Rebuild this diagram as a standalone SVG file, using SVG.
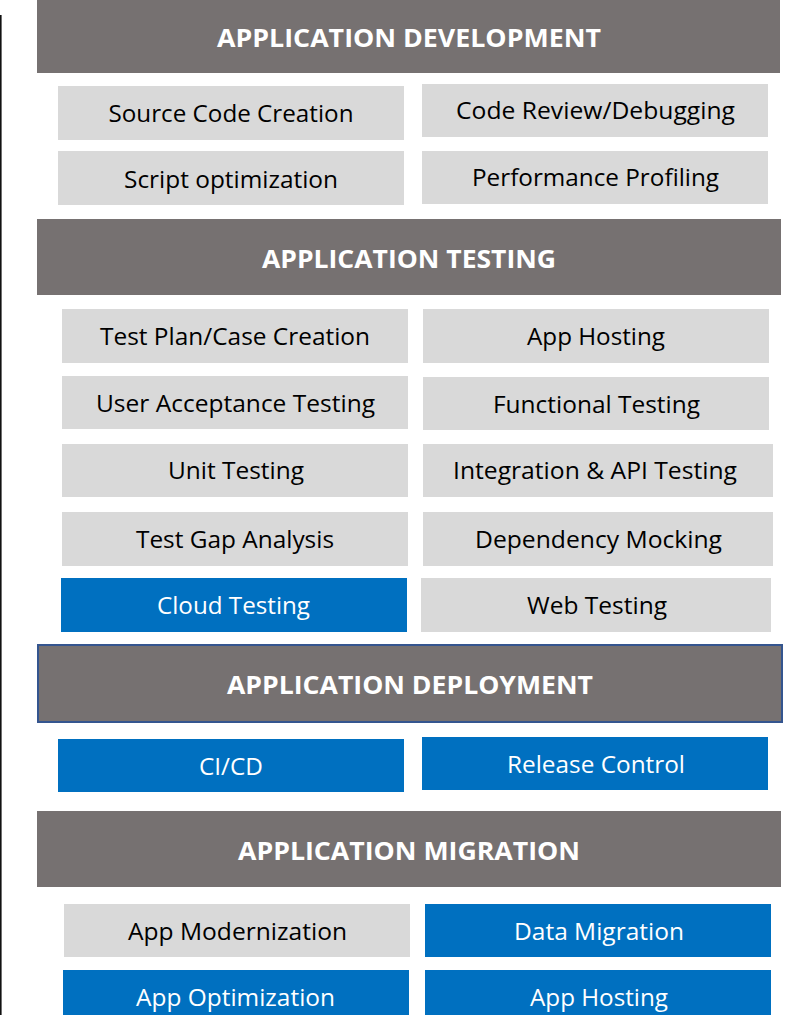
<svg xmlns="http://www.w3.org/2000/svg" width="794" height="1015" viewBox="0 0 794 1015">
  <style>
    .hdr { fill: #767171; }
    .hdr-b { fill: #767171; stroke: #34558F; stroke-width: 2; }
    .gray { fill: #D9D9D9; }
    .blue { fill: #0070C0; }
    .ht { font-family: "Open Sans", Lato, sans-serif; font-weight: bold; font-size: 25.5px; fill: #FFFFFF; text-anchor: middle; }
    .t { font-family: "Open Sans", Lato, sans-serif; font-size: 23.5px; fill: #000000; text-anchor: middle; }
    .tw { font-family: "Open Sans", Lato, sans-serif; font-size: 23.5px; fill: #FFFFFF; text-anchor: middle; }
  </style>
  <rect width="794" height="1015" fill="#FFFFFF"/>
  <!-- left rule -->
  <rect x="0" y="15" width="1.6" height="1000" fill="#111111"/>

  <!-- Application development -->
  <g id="hdr-development">
    <rect class="hdr" x="37" y="0" width="743" height="73"/>
    <text class="ht" x="409" y="47" textLength="384" lengthAdjust="spacingAndGlyphs">APPLICATION DEVELOPMENT</text>
  </g>
  <g id="source-code-creation">
    <rect class="gray" x="58" y="86" width="346" height="54"/>
    <text class="t" x="231" y="122" textLength="245" lengthAdjust="spacingAndGlyphs">Source Code Creation</text>
  </g>
  <g id="code-review">
    <rect class="gray" x="422" y="84" width="346" height="53"/>
    <text class="t" x="595.5" y="119" textLength="279" lengthAdjust="spacingAndGlyphs">Code Review/Debugging</text>
  </g>
  <g id="script-optimization">
    <rect class="gray" x="58" y="151" width="346" height="54"/>
    <text class="t" x="231" y="188" textLength="214" lengthAdjust="spacingAndGlyphs">Script optimization</text>
  </g>
  <g id="performance-profiling">
    <rect class="gray" x="422" y="151" width="346" height="53"/>
    <text class="t" x="595.5" y="186" textLength="247" lengthAdjust="spacingAndGlyphs">Performance Profiling</text>
  </g>

  <!-- Application testing -->
  <g id="hdr-testing">
    <rect class="hdr" x="37" y="219" width="744" height="76"/>
    <text class="ht" x="409" y="268" textLength="294" lengthAdjust="spacingAndGlyphs">APPLICATION TESTING</text>
  </g>
  <g id="test-plan">
    <rect class="gray" x="62" y="309" width="346" height="54"/>
    <text class="t" x="235" y="345" textLength="270" lengthAdjust="spacingAndGlyphs">Test Plan/Case Creation</text>
  </g>
  <g id="app-hosting-test">
    <rect class="gray" x="423" y="309" width="346" height="54"/>
    <text class="t" x="596" y="345" textLength="138" lengthAdjust="spacingAndGlyphs">App Hosting</text>
  </g>
  <g id="user-acceptance">
    <rect class="gray" x="62" y="376" width="346" height="53"/>
    <text class="t" x="235.5" y="412" textLength="279" lengthAdjust="spacingAndGlyphs">User Acceptance Testing</text>
  </g>
  <g id="functional-testing">
    <rect class="gray" x="423" y="377" width="346" height="53"/>
    <text class="t" x="596.5" y="413" textLength="207" lengthAdjust="spacingAndGlyphs">Functional Testing</text>
  </g>
  <g id="unit-testing">
    <rect class="gray" x="62" y="444" width="346" height="53"/>
    <text class="t" x="236" y="479" textLength="136" lengthAdjust="spacingAndGlyphs">Unit Testing</text>
  </g>
  <g id="integration-api">
    <rect class="gray" x="423" y="444" width="350" height="53"/>
    <text class="t" x="595" y="479" textLength="284" lengthAdjust="spacingAndGlyphs">Integration &amp; API Testing</text>
  </g>
  <g id="test-gap">
    <rect class="gray" x="62" y="512" width="346" height="54"/>
    <text class="t" x="235" y="548" textLength="198" lengthAdjust="spacingAndGlyphs">Test Gap Analysis</text>
  </g>
  <g id="dependency-mocking">
    <rect class="gray" x="423" y="512" width="350" height="54"/>
    <text class="t" x="598.5" y="548" textLength="247" lengthAdjust="spacingAndGlyphs">Dependency Mocking</text>
  </g>
  <g id="cloud-testing">
    <rect class="blue" x="61" y="578" width="346" height="54"/>
    <text class="tw" x="233.5" y="614" textLength="153" lengthAdjust="spacingAndGlyphs">Cloud Testing</text>
  </g>
  <g id="web-testing">
    <rect class="gray" x="421" y="578" width="350" height="54"/>
    <text class="t" x="597" y="614" textLength="140" lengthAdjust="spacingAndGlyphs">Web Testing</text>
  </g>

  <!-- Application deployment -->
  <g id="hdr-deployment">
    <rect class="hdr-b" x="38" y="645" width="744" height="77"/>
    <text class="ht" x="410" y="694" textLength="366" lengthAdjust="spacingAndGlyphs">APPLICATION DEPLOYMENT</text>
  </g>
  <g id="ci-cd">
    <rect class="blue" x="58" y="739" width="346" height="53"/>
    <text class="tw" x="231" y="775" textLength="64" lengthAdjust="spacingAndGlyphs">CI/CD</text>
  </g>
  <g id="release-control">
    <rect class="blue" x="422" y="737" width="346" height="53"/>
    <text class="tw" x="596" y="773" textLength="178" lengthAdjust="spacingAndGlyphs">Release Control</text>
  </g>

  <!-- Application migration -->
  <g id="hdr-migration">
    <rect class="hdr" x="37" y="811" width="744" height="76"/>
    <text class="ht" x="409" y="860" textLength="342" lengthAdjust="spacingAndGlyphs">APPLICATION MIGRATION</text>
  </g>
  <g id="app-modernization">
    <rect class="gray" x="64" y="904" width="346" height="53"/>
    <text class="t" x="237.5" y="940" textLength="219" lengthAdjust="spacingAndGlyphs">App Modernization</text>
  </g>
  <g id="data-migration">
    <rect class="blue" x="425" y="904" width="346" height="53"/>
    <text class="tw" x="599" y="940" textLength="170" lengthAdjust="spacingAndGlyphs">Data Migration</text>
  </g>
  <g id="app-optimization">
    <rect class="blue" x="63" y="970" width="346" height="45"/>
    <text class="tw" x="235.5" y="1006" textLength="199" lengthAdjust="spacingAndGlyphs">App Optimization</text>
  </g>
  <g id="app-hosting-migration">
    <rect class="blue" x="425" y="970" width="346" height="45"/>
    <text class="tw" x="599" y="1006" textLength="138" lengthAdjust="spacingAndGlyphs">App Hosting</text>
  </g>
</svg>
